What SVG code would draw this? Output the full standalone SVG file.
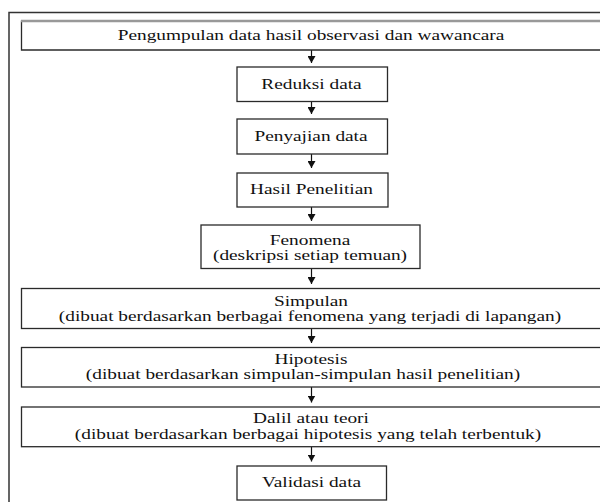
<svg xmlns="http://www.w3.org/2000/svg" width="600" height="502" viewBox="0 0 600 502">
<style>
.box{fill:#fff;stroke:#2a2a2a;stroke-width:1.3}
.t{font-family:'Liberation Serif','DejaVu Serif',serif;font-size:14px;fill:#111;text-anchor:middle}
.c{stroke:#111;stroke-width:1.2;fill:none}
</style>
<defs>
<marker id="ah" viewBox="0 0 7 8" refX="7" refY="4" markerWidth="7" markerHeight="8" markerUnits="userSpaceOnUse" orient="auto">
<path d="M0,0 L7,4 L0,8 z" fill="#111"/>
</marker>
</defs>
<rect id="frame" x="9" y="12.5" width="640" height="520" fill="none" stroke="#333" stroke-width="1.5"/>

<g id="connectors">
<line class="c" x1="311.5" y1="50" x2="311.5" y2="63" marker-end="url(#ah)"/>
<line class="c" x1="311.5" y1="101.5" x2="311.5" y2="114" marker-end="url(#ah)"/>
<line class="c" x1="311.5" y1="154" x2="311.5" y2="168" marker-end="url(#ah)"/>
<line class="c" x1="311.5" y1="207" x2="311.5" y2="221" marker-end="url(#ah)"/>
<line class="c" x1="311.5" y1="268.5" x2="311.5" y2="284" marker-end="url(#ah)"/>
<line class="c" x1="311.5" y1="328.5" x2="311.5" y2="343" marker-end="url(#ah)"/>
<line class="c" x1="311.5" y1="387" x2="311.5" y2="402.5" marker-end="url(#ah)"/>
<line class="c" x1="311.5" y1="446.7" x2="311.5" y2="461.5" marker-end="url(#ah)"/>
</g>

<g id="n1">
<path d="M620,50 L21.5,50 L21.5,20.5" fill="#fff" stroke="#2a2a2a" stroke-width="1.3"/>
<line x1="21" y1="21" x2="620" y2="21" stroke="#999" stroke-width="2.5"/>
<text class="t" transform="translate(311,40) scale(1.38,1)">Pengumpulan data hasil observasi dan wawancara</text>
</g>
<g id="n2">
<rect class="box" x="237" y="67" width="150.5" height="34.5"/>
<text class="t" transform="translate(311.5,89) scale(1.38,1)">Reduksi data</text>
</g>
<g id="n3">
<rect class="box" x="237" y="119" width="150.5" height="35"/>
<text class="t" transform="translate(311,141) scale(1.38,1)">Penyajian data</text>
</g>
<g id="n4">
<rect class="box" x="237" y="173" width="151" height="34"/>
<text class="t" transform="translate(311.5,194) scale(1.38,1)">Hasil Penelitian</text>
</g>
<g id="n5">
<rect class="box" x="201" y="225" width="219" height="43.5"/>
<text class="t" transform="translate(310,245) scale(1.38,1)">Fenomena</text>
<text class="t" transform="translate(310,259.5) scale(1.38,1)">(deskripsi setiap temuan)</text>
</g>
<g id="n6">
<rect class="box" x="21.5" y="288.5" width="620" height="40"/>
<text class="t" transform="translate(311,306) scale(1.38,1)">Simpulan</text>
<text class="t" transform="translate(310,320.5) scale(1.38,1)">(dibuat berdasarkan berbagai fenomena yang terjadi di lapangan)</text>
</g>
<g id="n7">
<rect class="box" x="21.5" y="347.5" width="620" height="39.5"/>
<text class="t" transform="translate(311,364) scale(1.38,1)">Hipotesis</text>
<text class="t" transform="translate(303,379) scale(1.38,1)">(dibuat berdasarkan simpulan-simpulan hasil penelitian)</text>
</g>
<g id="n8">
<rect class="box" x="21.5" y="407" width="620" height="39.7"/>
<text class="t" transform="translate(311,423) scale(1.38,1)">Dalil atau teori</text>
<text class="t" transform="translate(308,439) scale(1.38,1)">(dibuat berdasarkan berbagai hipotesis yang telah terbentuk)</text>
</g>
<g id="n9">
<rect class="box" x="237" y="466" width="149.5" height="34"/>
<text class="t" transform="translate(311.5,487) scale(1.38,1)">Validasi data</text>
</g>
</svg>
